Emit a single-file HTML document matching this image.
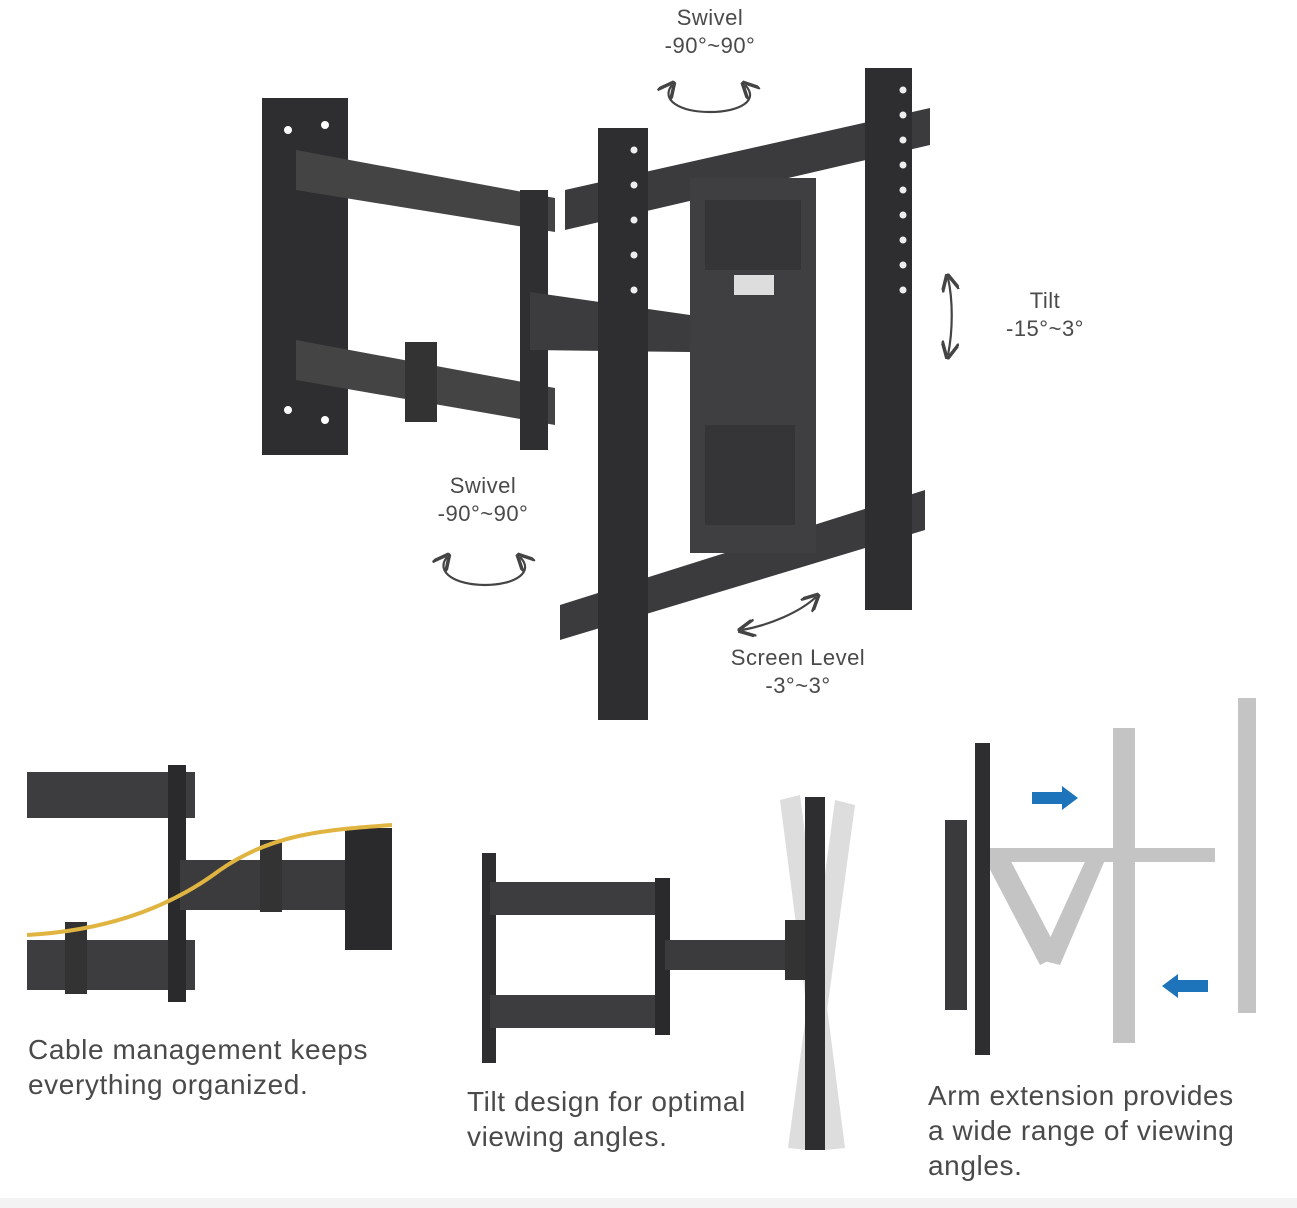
<!DOCTYPE html>
<html><head><meta charset="utf-8"><style>
html,body{margin:0;padding:0;background:#fff;}
body{width:1297px;height:1208px;overflow:hidden;position:relative;font-family:"Liberation Sans","DejaVu Sans",sans-serif;color:#555;}
.t{position:absolute;text-align:center;font-size:22px;line-height:28px;color:#4a4a4a;letter-spacing:0.5px;}
.c{position:absolute;font-size:28px;line-height:35px;color:#4a4a4a;letter-spacing:0.6px;}
</style></head><body>
<svg width="1297" height="1208" style="position:absolute;left:0;top:0">
<defs>
<marker id="ah" markerWidth="8" markerHeight="8" refX="6" refY="4" orient="auto-start-reverse"><path d="M0,0 L8,4 L0,8" fill="none" stroke="#444" stroke-width="1.6"/></marker>
</defs>
<g fill="#3a3a3c">
<rect x="262" y="98" width="86" height="357" fill="#2e2e30"/>
<polygon points="296,150 555,198 555,232 296,190" fill="#444"/>
<polygon points="296,340 555,388 555,425 296,380" fill="#444"/>
<rect x="520" y="190" width="28" height="260" fill="#2f2f31"/>
<polygon points="530,292 690,315 690,352 530,350" fill="#3c3c3e"/>
<rect x="405" y="342" width="32" height="80" fill="#333"/>
<polygon points="565,190 930,108 930,145 565,230" fill="#3b3b3d"/>
<polygon points="560,605 925,490 925,530 560,640" fill="#3b3b3d"/>
<rect x="690" y="178" width="126" height="375" fill="#3f3f41"/>
<rect x="705" y="200" width="96" height="70" fill="#353537"/>
<rect x="705" y="425" width="90" height="100" fill="#353537"/>
<rect x="598" y="128" width="50" height="592" fill="#2e2e30"/>
<rect x="865" y="68" width="47" height="542" fill="#2e2e30"/>
</g>
<g fill="#fff">
<circle cx="288" cy="130" r="4"/><circle cx="325" cy="125" r="4"/><circle cx="288" cy="410" r="4"/><circle cx="325" cy="420" r="4"/>
<rect x="734" y="275" width="40" height="20" fill="#ddd"/>
</g>
<g fill="#eee">
<circle cx="634" cy="150" r="3.5"/><circle cx="634" cy="185" r="3.5"/><circle cx="634" cy="220" r="3.5"/><circle cx="634" cy="255" r="3.5"/><circle cx="634" cy="290" r="3.5"/>
<circle cx="903" cy="90" r="3.5"/><circle cx="903" cy="115" r="3.5"/><circle cx="903" cy="140" r="3.5"/><circle cx="903" cy="165" r="3.5"/><circle cx="903" cy="190" r="3.5"/><circle cx="903" cy="215" r="3.5"/><circle cx="903" cy="240" r="3.5"/><circle cx="903" cy="265" r="3.5"/><circle cx="903" cy="290" r="3.5"/>
</g>
<g fill="none" stroke="#444" stroke-width="2.2">
<path d="M672,85 C660,100 680,112 710,112 C740,112 760,100 745,85" marker-start="url(#ah)" marker-end="url(#ah)"/>
<path d="M447,557 C435,572 455,585 485,585 C515,585 535,572 520,557" marker-start="url(#ah)" marker-end="url(#ah)"/>
<path d="M948,278 C953,300 953,330 948,355" marker-start="url(#ah)" marker-end="url(#ah)"/>
<path d="M742,630 C770,625 800,612 816,597" marker-start="url(#ah)" marker-end="url(#ah)"/>
</g>
<g>
<rect x="27" y="772" width="168" height="46" fill="#3d3d3f"/>
<rect x="27" y="940" width="168" height="50" fill="#3d3d3f"/>
<rect x="168" y="765" width="18" height="237" fill="#2a2a2c"/>
<rect x="180" y="860" width="212" height="50" fill="#3b3b3d"/>
<rect x="260" y="840" width="22" height="72" fill="#333"/>
<rect x="65" y="922" width="22" height="72" fill="#333"/>
<rect x="345" y="828" width="47" height="122" fill="#2a2a2c"/>
<path d="M27,935 C120,930 180,900 220,870 C270,835 320,830 392,825" fill="none" stroke="#e0b440" stroke-width="4"/>
</g>
<g>
<polygon points="780,800 800,795 845,1148 825,1150" fill="#ddd"/>
<polygon points="855,805 835,800 788,1148 808,1150" fill="#ddd"/>
<rect x="482" y="853" width="14" height="210" fill="#2e2e30"/>
<rect x="490" y="882" width="180" height="33" fill="#3d3d3f"/>
<rect x="490" y="995" width="180" height="33" fill="#3d3d3f"/>
<rect x="655" y="878" width="15" height="157" fill="#2a2a2c"/>
<rect x="665" y="940" width="130" height="30" fill="#3b3b3d"/>
<rect x="785" y="920" width="20" height="60" fill="#333"/>
<rect x="805" y="797" width="20" height="353" fill="#2e2e30"/>
</g>
<g fill="#c4c4c4">
<rect x="1113" y="728" width="22" height="315"/>
<rect x="1238" y="698" width="18" height="315"/>
<rect x="990" y="848" width="225" height="14"/>
<polygon points="985,860 1005,850 1060,955 1040,965"/>
<polygon points="1040,960 1060,965 1105,860 1088,855"/>
</g>
<g>
<rect x="975" y="743" width="15" height="312" fill="#2e2e30"/>
<rect x="945" y="820" width="22" height="190" fill="#3a3a3c"/>
<polygon points="1032,792 1062,792 1062,786 1078,798 1062,810 1062,804 1032,804" fill="#1e74bb"/>
<polygon points="1208,980 1178,980 1178,974 1162,986 1178,998 1178,992 1208,992" fill="#1e74bb"/>
</g>
<rect x="0" y="1198" width="1297" height="10" fill="#f3f3f3"/>
</svg>
<div class="t" style="left:640px;top:4px;width:140px">Swivel<br>-90°~90°</div>
<div class="t" style="left:413px;top:472px;width:140px">Swivel<br>-90°~90°</div>
<div class="t" style="left:975px;top:287px;width:140px">Tilt<br>-15°~3°</div>
<div class="t" style="left:718px;top:644px;width:160px">Screen Level<br>-3°~3°</div>
<div class="c" style="left:28px;top:1032px">Cable management keeps<br>everything organized.</div>
<div class="c" style="left:467px;top:1084px">Tilt design for optimal<br>viewing angles.</div>
<div class="c" style="left:928px;top:1078px">Arm extension provides<br>a wide range of viewing<br>angles.</div>
</body></html>
